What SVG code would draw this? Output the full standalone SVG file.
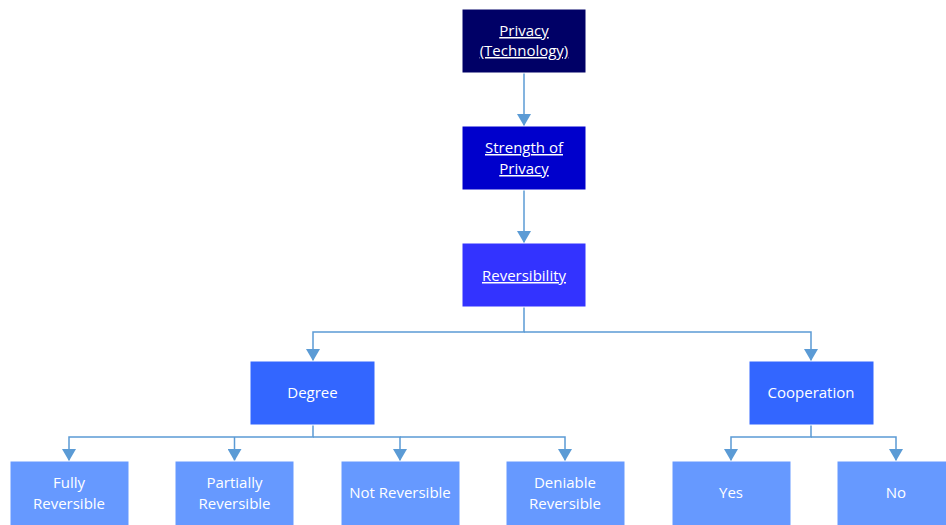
<svg xmlns="http://www.w3.org/2000/svg" width="946" height="525" viewBox="0 0 946 525">
<style>
.b{stroke:#ffffff;stroke-width:1}
.t{font-family:"Open Sans","Liberation Sans",sans-serif;font-size:15px;fill:#ffffff;text-anchor:middle}
.u{text-decoration:underline}
.c{fill:none;stroke:#5B9BD5;stroke-width:1.5}
</style>
<defs>
<marker id="a" viewBox="0 0 12 14" refX="12" refY="7" markerWidth="12" markerHeight="14" markerUnits="userSpaceOnUse" orient="auto">
<path d="M0,0 L12,7 L0,14 Z" fill="#5B9BD5"/>
</marker>
</defs>
<rect width="946" height="525" fill="#ffffff"/>
<g id="connectors">
<path class="c" d="M524,73 V126" marker-end="url(#a)"/>
<path class="c" d="M524,190 V243" marker-end="url(#a)"/>
<path class="c" d="M524,307 V332 H313 V361" marker-end="url(#a)"/>
<path class="c" d="M524,332 H811 V361" marker-end="url(#a)"/>
<path class="c" d="M313,425 V437 H69 V461" marker-end="url(#a)"/>
<path class="c" d="M234.5,437 V461" marker-end="url(#a)"/>
<path class="c" d="M313,437 H400 V461" marker-end="url(#a)"/>
<path class="c" d="M400,437 H565 V461" marker-end="url(#a)"/>
<path class="c" d="M811,425 V437 H731 V461" marker-end="url(#a)"/>
<path class="c" d="M811,437 H896 V461" marker-end="url(#a)"/>
</g>
<g id="n1"><rect class="b" x="462" y="9" width="124" height="64" fill="#000066"/>
<text class="t u" x="524" y="36">Privacy</text><text class="t u" x="524" y="56">(Technology)</text></g>
<g id="n2"><rect class="b" x="462" y="126" width="124" height="64" fill="#0000CC"/>
<text class="t u" x="524" y="153">Strength of</text><text class="t u" x="524" y="174">Privacy</text></g>
<g id="n3"><rect class="b" x="462" y="243" width="124" height="64" fill="#3333FF"/>
<text class="t u" x="524" y="281">Reversibility</text></g>
<g id="n4"><rect class="b" x="250" y="361" width="125" height="64" fill="#3366FF"/>
<text class="t" x="312.5" y="398">Degree</text></g>
<g id="n5"><rect class="b" x="749" y="361" width="125" height="64" fill="#3366FF"/>
<text class="t" x="811" y="398">Cooperation</text></g>
<g id="n6"><rect class="b" x="10" y="461" width="119" height="66" fill="#6699FF"/>
<text class="t" x="69" y="488">Fully</text><text class="t" x="69" y="509">Reversible</text></g>
<g id="n7"><rect class="b" x="175" y="461" width="119" height="66" fill="#6699FF"/>
<text class="t" x="234.5" y="488">Partially</text><text class="t" x="234.5" y="509">Reversible</text></g>
<g id="n8"><rect class="b" x="341" y="461" width="119" height="66" fill="#6699FF"/>
<text class="t" x="400" y="498">Not Reversible</text></g>
<g id="n9"><rect class="b" x="506" y="461" width="119" height="66" fill="#6699FF"/>
<text class="t" x="565" y="488">Deniable</text><text class="t" x="565" y="509">Reversible</text></g>
<g id="n10"><rect class="b" x="672" y="461" width="119" height="66" fill="#6699FF"/>
<text class="t" x="731" y="498">Yes</text></g>
<g id="n11"><rect class="b" x="837" y="461" width="119" height="66" fill="#6699FF"/>
<text class="t" x="896" y="498">No</text></g>
</svg>
